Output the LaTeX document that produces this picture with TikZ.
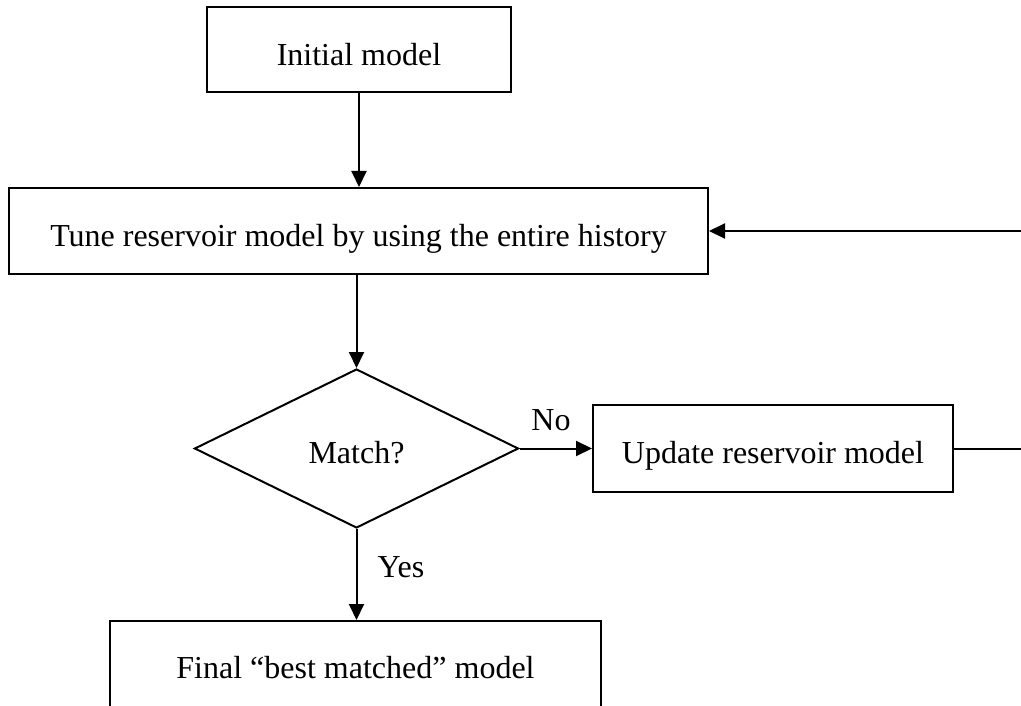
\documentclass[tikz,border=0pt]{standalone}
\usepackage{fontspec}
\setmainfont{Liberation Serif}
\usetikzlibrary{shapes.geometric,arrows.meta}
\tikzset{
  box/.style={draw=black, line width=2pt, rectangle, inner sep=0pt, align=center, text height=32pt, text depth=0pt, font=\fontsize{32}{38}\selectfont},
  decision/.style={draw=black, line width=2pt, diamond, inner sep=0pt, aspect=2.04, text height=30pt, text depth=0pt, font=\fontsize{32}{38}\selectfont},
  lbl/.style={inner sep=0pt, font=\fontsize{32}{38}\selectfont},
  conn/.style={line width=2pt, -{Triangle[length=16pt,width=15pt]}},
  plain/.style={line width=2pt}
}
\begin{document}
\begin{tikzpicture}[x=1pt,y=1pt]
\useasboundingbox (0,0) rectangle (1021,-706);
\clip (0,0) rectangle (1021,-706);
\node[box, minimum width=304pt, minimum height=85pt] (init) at (359,-49.5) {Initial model};
\node[box, minimum width=699pt, minimum height=86pt] (tune) at (358.5,-231) {Tune reservoir model by using the entire history};
\node[decision, minimum width=324pt, minimum height=159pt] (match) at (356.5,-448.5) {Match?};
\node[box, minimum width=360pt, minimum height=87pt, text height=30pt] (update) at (773,-448.5) {Update reservoir model};
\node[box, minimum width=491.5pt, minimum height=92pt, text height=22pt] (final) at (355.5,-667) {Final “best matched” model};
\coordinate (r1) at (1040,-448.5);
\coordinate (r2) at (1040,-231);
\node[lbl] (no) at (551,-420) {No};
\node[lbl] (yes) at (401,-567) {Yes};
\draw[conn] (init.south) -- (init.south |- tune.north);
\draw[conn] (tune.south -| match.north) -- (match.north);
\draw[conn] (match.east) -- (update.west);
\draw[conn] (match.south) -- (match.south |- final.north);
\draw[plain] (update.east) -- (r1) -- (r2);
\draw[conn] (r2) -- (tune.east);
\end{tikzpicture}
\end{document}
